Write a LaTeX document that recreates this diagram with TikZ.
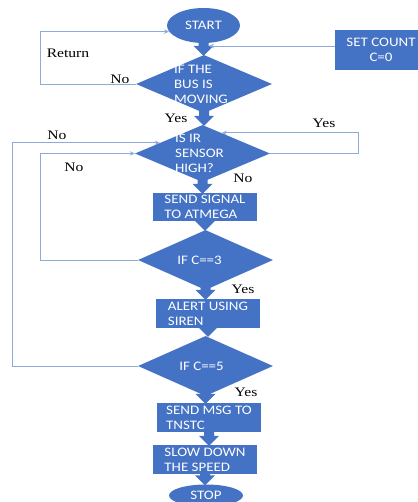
\documentclass[tikz,border=0pt]{standalone}
\usepackage{fontspec}
\setmainfont{Liberation Serif}[FakeStretch=1.2]
\newfontfamily\calib{Carlito}[FakeStretch=1.15]
\usetikzlibrary{shapes.geometric,arrows.meta,calc}
\definecolor{bfill}{HTML}{4472C4}
\definecolor{lcol}{HTML}{8EA9DB}
\newcommand\blockarr[2]{%
  \fill[bfill] let \p1=(#1.south), \p2=(#2.north) in
    (\x1-5pt,\y1+3pt) -- (\x1-5pt,\y2+9pt) -- (\x1-10pt,\y2+9pt) -- (\x1,\y2-1pt)
    -- (\x1+10pt,\y2+9pt) -- (\x1+5pt,\y2+9pt) -- (\x1+5pt,\y1+3pt) -- cycle;}
\begin{document}
\begin{tikzpicture}[x=1pt,y=-1pt,
  shp/.style={fill=bfill, draw=none, text=white, font=\calib\fontsize{13}{15}\selectfont, inner sep=0pt},
  boxn/.style={shp, rectangle, minimum width=104pt, minimum height=29pt, align=left},
  dia/.style={shp, diamond, minimum width=135pt, minimum height=60pt},
  ell/.style={shp, ellipse},
  dtext/.style={text=white, font=\calib\fontsize{13}{15}\selectfont, align=left, inner sep=0pt},
  conn/.style={draw=lcol, line width=0.9pt, -{Stealth[length=5pt,width=4.5pt]}},
  lab/.style={font=\fontsize{13}{14}\selectfont, text=black, inner sep=0pt}]
\useasboundingbox (0,0) rectangle (417,502);
% shapes
\node[ell, minimum width=73pt, minimum height=35pt] (start) at (203.5,25.5) {START};
\node[dia, minimum width=136pt, minimum height=58pt,
  label={[dtext, xshift=-3pt]center:{IF THE\\BUS IS\\MOVING}}] (d1) at (204,84) {};
\node[boxn, minimum width=92pt, minimum height=40pt, align=center] (setc) at (381,50) {SET COUNT\\C=0};
\node[dia, minimum height=57pt,
  label={[dtext, xshift=-3pt]center:{IS IR\\SENSOR\\HIGH?}}] (d2) at (202.5,153.5) {};
\node[boxn, minimum height=28pt] (sig) at (205,207) {SEND SIGNAL\\TO ATMEGA};
\node[dia, label={[dtext, xshift=-6pt]center:{IF C==3}}] (d3) at (205.5,260) {};
\node[boxn] (alert) at (208,313.5) {ALERT USING\\SIREN};
\node[dia, label={[dtext, xshift=-4pt]center:{IF C==5}}] (d4) at (205.5,366) {};
\node[boxn] (msg) at (209,417.5) {SEND MSG TO\\TNSTC};
\node[boxn] (slow) at (205,459.5) {SLOW DOWN\\THE SPEED};
\node[ell, minimum width=74pt, minimum height=22pt] (stop) at (206,495.5) {STOP};
% block arrows
\blockarr{start}{d1}
\blockarr{d1}{d2}
\blockarr{d2}{sig}
\blockarr{sig}{d3}
\blockarr{d3}{alert}
\blockarr{alert}{d4}
\blockarr{d4}{msg}
\blockarr{msg}{slow}
\blockarr{slow}{stop}
% connectors
\coordinate (sc) at (209,46);
\draw[conn] (setc.west |- sc) -- (sc);
\draw[conn] (d1.west) -- ++(-95,0) |- (start.190);
\draw[conn] (d2.east) -- ++(88,0) |- (d2.47);
\draw[conn] (d4.west) -- ++(-125.5,0) |- (d2.166);
\draw[conn] (d3.west) -- ++(-97.5,0) |- (d2.west);
% labels
\node[lab] (lret) at (68,53) {Return};
\node[lab] (lno1) at (120,79) {No};
\node[lab] (lyes1) at (176,118) {Yes};
\node[lab] (lyes2) at (324,123) {Yes};
\node[lab] (lno2) at (57,135) {No};
\node[lab] (lno3) at (74,167) {No};
\node[lab] (lno4) at (243,178) {No};
\node[lab] (lyes3) at (243,289) {Yes};
\node[lab] (lyes4) at (246,392) {Yes};
\end{tikzpicture}
\end{document}
